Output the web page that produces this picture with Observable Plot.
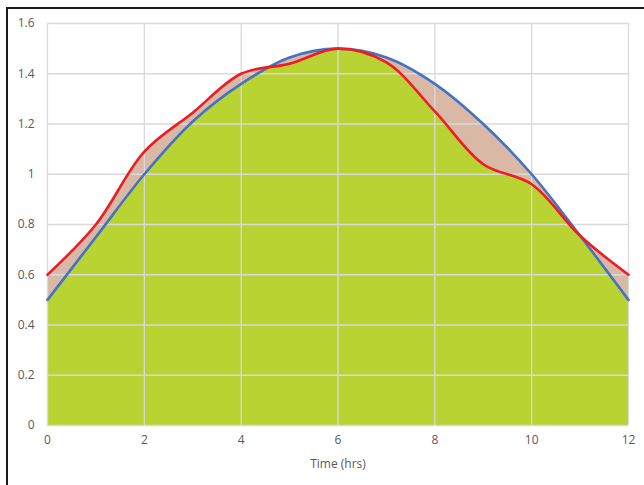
<!DOCTYPE html>
<html>
<head>
<meta charset="utf-8">
<script src="https://cdn.jsdelivr.net/npm/d3@7"></script>
<script src="https://cdn.jsdelivr.net/npm/@observablehq/plot@0.6"></script>
<style>
  html, body { margin: 0; padding: 0; background: #fff; }
  #wrap { position: relative; width: 644px; height: 485px; overflow: hidden; }
  #border { position: absolute; left: 6px; top: 7px; width: 700px; height: 600px;
            border-left: 2px solid #1a1a1a; border-top: 2px solid #1a1a1a; box-sizing: border-box; }
  #chart { position: absolute; left: 0; top: 0; }
</style>
</head>
<body>
<div id="wrap"><div id="border"></div><div id="chart"></div></div>
<script>
// Data
const hours = [0, 1, 2, 3, 4, 5, 6, 7, 8, 9, 10, 11, 12];
const blueSeries = [0.5, 0.75, 1.0, 1.21, 1.36, 1.465, 1.5, 1.465, 1.36, 1.2, 1.0, 0.755, 0.5];
const redSeries = [0.6, 0.8, 1.09, 1.245, 1.40, 1.44, 1.5, 1.445, 1.25, 1.04, 0.96, 0.755, 0.6];
const xTicks = [0, 2, 4, 6, 8, 10, 12];
const yTicks = [0, 0.2, 0.4, 0.6, 0.8, 1, 1.2, 1.4, 1.6];

const data = hours.map((h, i) => ({h, blue: blueSeries[i], red: redSeries[i]}));

const green = "#b9d333";
const tan = "#d9b8a5";
const curve = "catmull-rom";

const chart = Plot.plot({
  width: 644,
  height: 485,
  marginLeft: 47,
  marginRight: 16,
  marginTop: 23,
  marginBottom: 60,
  style: {fontFamily: "'Open Sans', 'Liberation Sans', sans-serif", fontSize: "12px", color: "#595959", background: "transparent"},
  x: {domain: [0, 12], ticks: xTicks},
  y: {domain: [0, 1.6], ticks: yTicks},
  marks: [
    Plot.areaY(data, {x: "h", y: "blue", fill: tan, curve}),
    Plot.areaY(data, {x: "h", y: "red", fill: tan, curve}),
    Plot.areaY(data, {x: "h", y: "red", fill: green, curve}),
    Plot.gridY(yTicks, {stroke: "#d9d9d9", strokeOpacity: 1, strokeWidth: 1.3}),
    Plot.gridX(xTicks, {stroke: "#d9d9d9", strokeOpacity: 1, strokeWidth: 1.3}),
    Plot.lineY(data, {x: "h", y: "blue", stroke: "#4472c4", strokeWidth: 2.6, curve}),
    Plot.lineY(data, {x: "h", y: "red", stroke: "#ee1c25", strokeWidth: 2.6, curve}),
    Plot.axisY(yTicks, {tickSize: 0, tickPadding: 13, tickFormat: d => String(+d.toFixed(1)), fill: "#595959", label: null}),
    Plot.axisX(xTicks, {tickSize: 0, tickPadding: 10, fill: "#595959", label: "Time (hrs)", labelAnchor: "center", labelOffset: 42, labelArrow: "none"})
  ]
});

// Clip the green area to the area under the blue curve, so green = area under min(red, blue)
const areaGroups = chart.querySelectorAll('g[aria-label="area"]');
if (areaGroups.length >= 3) {
  const bluePath = areaGroups[0].querySelector("path");
  const greenPath = areaGroups[2].querySelector("path");
  const ns = "http://www.w3.org/2000/svg";
  const defs = document.createElementNS(ns, "defs");
  const cp = document.createElementNS(ns, "clipPath");
  cp.setAttribute("id", "underBlue");
  cp.setAttribute("clipPathUnits", "userSpaceOnUse");
  const p = document.createElementNS(ns, "path");
  p.setAttribute("d", bluePath.getAttribute("d"));
  const tr = areaGroups[0].getAttribute("transform");
  if (tr) p.setAttribute("transform", tr);
  cp.appendChild(p);
  defs.appendChild(cp);
  chart.insertBefore(defs, chart.firstChild);
  greenPath.setAttribute("clip-path", "url(#underBlue)");
}

document.getElementById("chart").appendChild(chart);
</script>
</body>
</html>
